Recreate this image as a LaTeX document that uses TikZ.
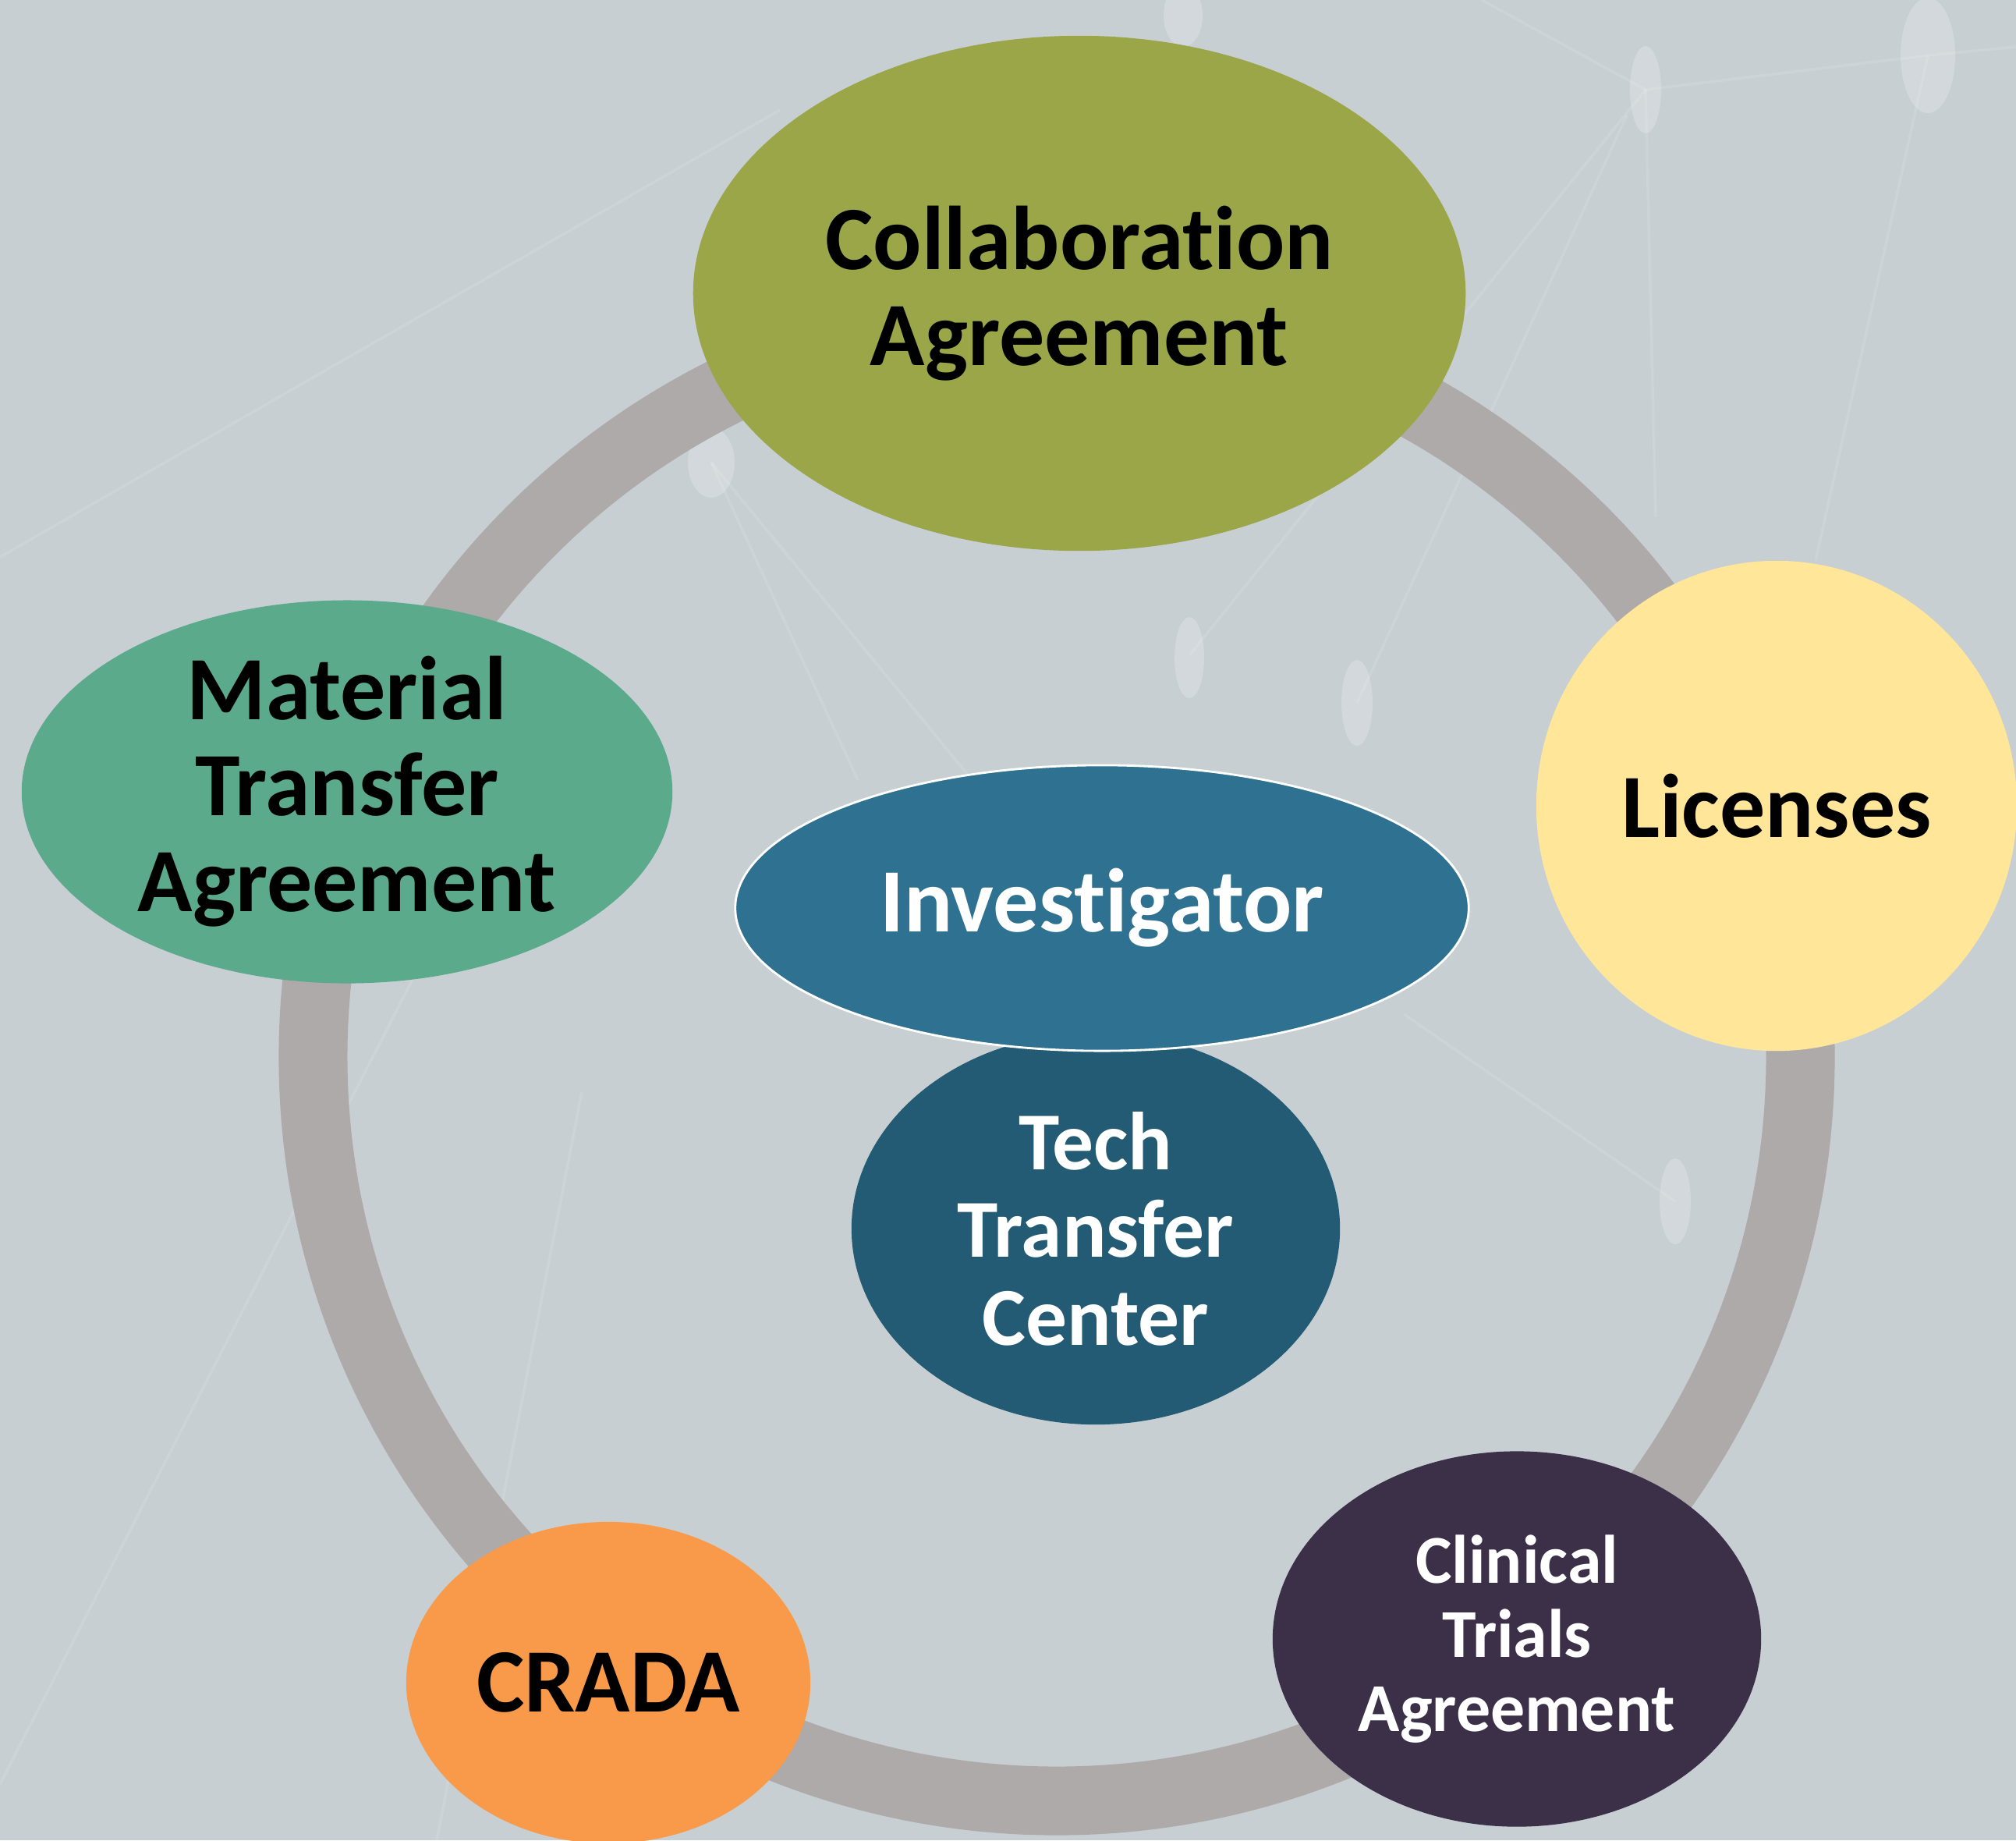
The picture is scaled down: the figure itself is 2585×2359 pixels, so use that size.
\documentclass[tikz,border=0pt]{standalone}
\usepackage{fontspec}
\setmainfont{Carlito}[Ligatures={NoCommon,NoRare}]
\usetikzlibrary{shapes.geometric}
\definecolor{bgc}{HTML}{C7CFD2}
\definecolor{ringc}{HTML}{AEAAAA}
\definecolor{collabc}{HTML}{9AA647}
\definecolor{licc}{HTML}{FFE699}
\definecolor{mtac}{HTML}{5BAA8B}
\definecolor{invc}{HTML}{2E7190}
\definecolor{ttcc}{HTML}{225B73}
\definecolor{ctac}{HTML}{3C3049}
\definecolor{cradac}{HTML}{F89A4A}
\tikzset{
  blob/.style={ellipse, inner sep=0pt, align=center, font=\bfseries\fontsize{33}{35}\selectfont},
  faint/.style={draw=white, draw opacity=0.12, line width=1pt},
  faintdot/.style={fill=white, fill opacity=0.2},
}
\begin{document}
\begin{tikzpicture}[x=0.01cm, y=-0.01cm]
\useasboundingbox (0,0) rectangle (2585,2359);
\clip (0,0) rectangle (2585,2359);
\fill[bgc] (0,0) rectangle (2585,2359);
% faint background network
\draw[faint] (0,714) -- (1000,141);
\draw[faint] (912,593) -- (1370,1150);
\draw[faint] (912,593) -- (1100,1000);
\draw[faint] (1525,840) -- (2110,115);
\draw[faint] (1740,901) -- (2086,148);
\draw[faint] (1900,0) -- (2110,115) -- (2472,71) -- (2585,60);
\draw[faint] (2110,115) -- (2123,663);
\draw[faint] (2472,71) -- (2328,719);
\draw[faint] (2148,1540) -- (1800,1300);
\draw[faint] (0,2287) -- (560,1195);
\draw[faint] (746,1400) -- (560,2359);
\fill[faintdot] (2110,115) ellipse [x radius=20, y radius=56];
\fill[faintdot] (2472,71) ellipse [x radius=35, y radius=74];
\fill[faintdot] (1525,843) ellipse [x radius=19, y radius=52];
\fill[faintdot] (1740,901) ellipse [x radius=20, y radius=55];
\fill[faintdot] (2148,1540) ellipse [x radius=20, y radius=55];
\fill[faintdot] (912,593) ellipse [x radius=30, y radius=45];
\fill[faintdot] (1517,20) ellipse [x radius=25, y radius=40];
% ring
\coordinate (rc) at (1355,1355);
\draw[ringc, line width=0.88cm] (rc) circle [radius=9.53cm];
% nodes
\node[blob, fill=collabc, minimum width=9.90cm, minimum height=6.60cm] (collab) at (1384,376) {Collaboration\\Agreement};
\node[blob, fill=licc, minimum width=6.16cm, minimum height=6.28cm] (lic) at (2278,1033) {Licenses};
\node[blob, fill=mtac, minimum width=8.34cm, minimum height=4.90cm] (mta) at (445,1015) {Material\\Transfer\\Agreement};
\node[blob, fill=ttcc, text=white, minimum width=6.26cm, minimum height=5.02cm, font=\bfseries\fontsize{30}{32}\selectfont] (ttc) at (1405,1575) {Tech\\Transfer\\Center};
\node[blob, fill=invc, draw=white, line width=0.8pt, text=white, minimum width=9.40cm, minimum height=3.66cm] (inv) at (1413,1164) {Investigator};
\node[blob, fill=ctac, text=white, minimum width=6.26cm, minimum height=4.81cm, font=\bfseries\fontsize{25}{27}\selectfont] (cta) at (1945,2101) {Clinical\\Trials\\Agreement};
\node[blob, fill=cradac, minimum width=5.18cm, minimum height=4.12cm] (crada) at (780,2157) {CRADA};
\end{tikzpicture}
\end{document}
